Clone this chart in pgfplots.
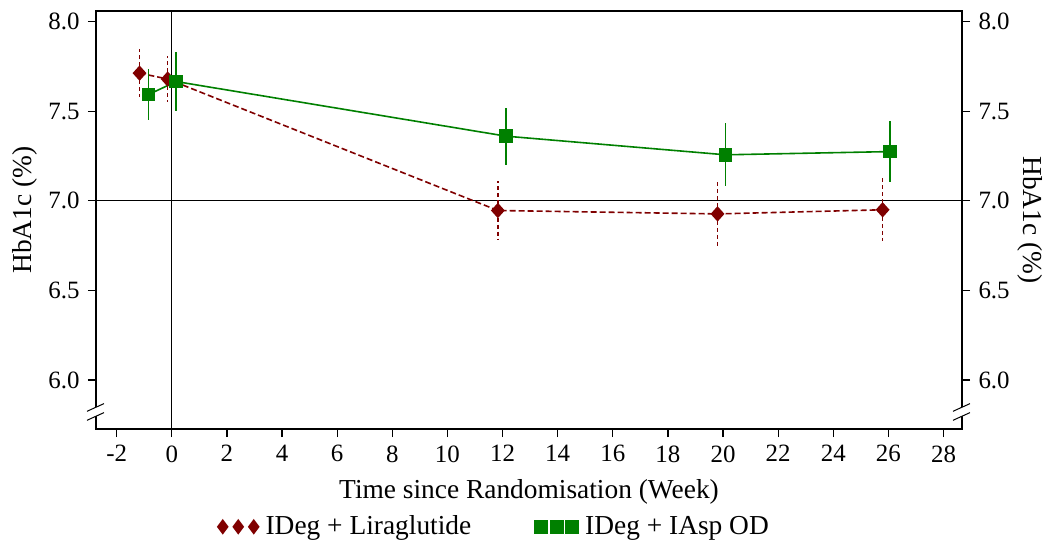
\documentclass[border=0pt]{standalone}
\usepackage{fontspec}
\setmainfont{Liberation Serif}
\usepackage{pgfplots}
\pgfplotsset{compat=1.18}
\definecolor{lira}{RGB}{128,0,0}
\definecolor{iasp}{RGB}{0,128,0}
\newcommand{\labfont}{\fontsize{27.5}{32}\selectfont}
\begin{document}
\fontsize{25}{30}\selectfont
\begin{tikzpicture}
\useasboundingbox (-96bp,-116bp) rectangle (948bp,429bp);
\begin{axis}[
  name=main,
  width=866bp, height=418bp, scale only axis,
  xmin=-2.75, xmax=28.67, ymin=5.726, ymax=8.06,
  xtick={-2,0,...,28}, ytick={6,6.5,7,7.5,8},
  xtick pos=bottom, ytick pos=left,
  tick align=outside, major tick length=8bp,
  axis line style={line width=1.2bp},
  tick style={line width=1.2bp, black},
  /pgf/number format/assume math mode=true,
  yticklabel style={/pgf/number format/.cd, fixed, fixed zerofill, precision=1},
  xlabel={Time since Randomisation (Week)},
  ylabel={HbA1c (\%)},
  xlabel style={font=\labfont, at={(axis description cs:0.5,-0.151)}, anchor=center},
  ylabel style={font=\labfont, at={(axis description cs:-0.082,0.524)}, anchor=center},
  legend columns=2,
  legend style={font=\labfont, at={(axis description cs:0.46,-0.234)}, anchor=center, draw=none, fill=none,
    /tikz/every even column/.append style={column sep=62bp},
    /tikz/every odd column/.append style={column sep=5bp}},
  legend image code/.code={\draw[only marks, mark options={solid}] plot coordinates {(0bp,0bp) (15.5bp,0bp) (31bp,0bp)};},
]
\draw[black, line width=1bp] (axis cs:0,5.726) -- (axis cs:0,8.06);
\draw[black, line width=1bp] (axis cs:-2.75,7.0) -- (axis cs:28.67,7.0);

\addplot[color=lira, line width=1.6bp, dash pattern=on 6bp off 3bp,
  mark=diamond*, mark size=6.5bp, mark options={solid, fill=lira, xscale=1.2},
  error bars/.cd, y dir=both, y explicit, error mark=none,
  error bar style={line width=1.5bp, dash pattern=on 4bp off 3bp}]
coordinates {
 (-1.17,7.713) +- (0,0.135)
 (-0.15,7.680) +- (0,0.130)
 (11.83,6.946) +- (0,0.163)
 (19.80,6.927) +- (0,0.180)
 (25.79,6.950) +- (0,0.175)
};
\addlegendentry{IDeg + Liraglutide}

\addplot[color=iasp, line width=1.6bp,
  mark=square*, mark size=6bp, mark options={solid, fill=iasp},
  error bars/.cd, y dir=both, y explicit, error mark=none,
  error bar style={line width=1.5bp, solid}]
coordinates {
 (-0.84,7.594) +- (0,0.140)
 (0.16,7.666) +- (0,0.163)
 (12.13,7.361) +- (0,0.160)
 (20.09,7.257) +- (0,0.176)
 (26.06,7.275) +- (0,0.169)
};
\addlegendentry{IDeg + IAsp OD}
\end{axis}

\begin{axis}[
  width=866bp, height=418bp, scale only axis,
  xmin=-2.75, xmax=28.67, ymin=5.726, ymax=8.06,
  axis x line=none, axis y line*=right,
  ytick={6,6.5,7,7.5,8},
  tick align=outside, major tick length=8bp,
  axis line style={line width=1.2bp, -},
  tick style={line width=1.2bp, black},
  /pgf/number format/assume math mode=true,
  yticklabel style={/pgf/number format/.cd, fixed, fixed zerofill, precision=1},
  ylabel={HbA1c (\%)},
  ylabel style={font=\labfont, at={(axis description cs:1.0785,0.5)}, anchor=center, rotate=180},
]
\addplot[draw=none] coordinates {(0,7)};
\end{axis}

% axis break marks
\foreach \xx in {0bp,866bp}{
  \fill[white] (\xx-9bp,12.5bp-3.8bp) -- ++(17bp,7.7bp) -- ++(0,9bp) -- ++(-17bp,-7.7bp) -- cycle;
  \draw[black, line width=1bp] (\xx-9bp,12.5bp-3.8bp) -- ++(17bp,7.7bp);
  \draw[black, line width=1bp] (\xx-9bp,21.5bp-3.8bp) -- ++(17bp,7.7bp);
}
\end{tikzpicture}
\end{document}
